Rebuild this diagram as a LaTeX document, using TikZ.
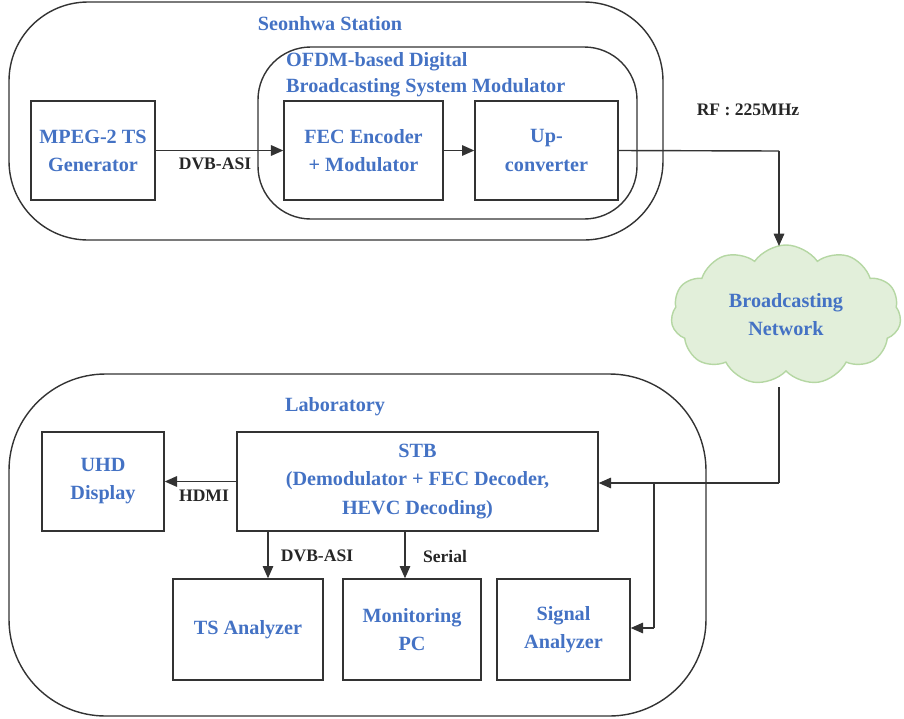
\documentclass[tikz,border=0pt]{standalone}
\usepackage{fontspec}
\setmainfont{Liberation Serif}
\usetikzlibrary{shapes.symbols,arrows.meta}
\definecolor{txtblue}{HTML}{4472C4}
\definecolor{cloudfill}{HTML}{E2EFDA}
\definecolor{cloudline}{HTML}{B5D7A3}
\tikzset{
  every node/.style={font=\bfseries},
  block/.style={draw=black!80, line width=0.8pt, text=txtblue, align=center, font=\bfseries\fontsize{11.5}{16}\selectfont, inner sep=0pt},
  group/.style={draw=black!80, line width=0.8pt},
  grouptitle/.style={text=txtblue, font=\bfseries\fontsize{11.5}{15}\selectfont},
  lbl/.style={text=black!85, font=\bfseries\fontsize{10}{12}\selectfont},
  conn/.style={draw=black!80, line width=0.8pt, -{Triangle[length=7pt,width=6pt]}},
  wire/.style={draw=black!80, line width=0.8pt}
}
\begin{document}
\begin{tikzpicture}[x=0.02cm,y=-0.02cm]
\useasboundingbox (0,0) rectangle (904,718);
% station and modulator enclosures
\draw[group, rounded corners=45] (9,2) rectangle (663,240);
\node[grouptitle] (sttitle) at (330,24) {Seonhwa Station};
\draw[group, rounded corners=30] (258,47) rectangle (637,219);
\node[grouptitle, align=left, anchor=west] (modtitle) at (280,75) {OFDM-based Digital\\Broadcasting System Modulator};
% station blocks
\node[block, minimum width=124*0.02cm, minimum height=99*0.02cm] (mpeg) at (93,150.5) {MPEG-2 TS\\Generator};
\node[block, minimum width=159*0.02cm, minimum height=99*0.02cm] (fec) at (363.5,150.5) {FEC Encoder\\+ Modulator};
\node[block, minimum width=143*0.02cm, minimum height=99*0.02cm] (up) at (546.5,150.5) {Up-\\converter};
\draw[conn] (mpeg.east) -- (fec.west);
\node[lbl] (dvb1) at (215,164) {DVB-ASI};
\draw[conn] (fec.east) -- (up.west);
% broadcasting network
\node[cloud, cloud puffs=11, cloud puff arc=110, aspect=1.6, draw=cloudline, fill=cloudfill, line width=0.8pt,
      minimum width=230*0.02cm, minimum height=140*0.02cm, inner sep=0pt,
      text=txtblue, align=center, font=\bfseries\fontsize{11.5}{16}\selectfont] (net) at (786,315) {Broadcasting\\Network};
\coordinate (rfcorner) at (779,151);
\draw[wire] (up.east) -- (rfcorner);
\coordinate (nettop) at (779,246);
\draw[conn] (rfcorner) -- (nettop);
\node[lbl] (rf) at (748,110) {RF : 225MHz};
% laboratory enclosure
\draw[group, rounded corners=55] (9,374) rectangle (706,716);
\node[grouptitle] (labtitle) at (335,407) {Laboratory};
\node[block, minimum width=122*0.02cm, minimum height=99*0.02cm] (uhd) at (103,481.5) {UHD\\Display};
\node[block, minimum width=361*0.02cm, minimum height=99*0.02cm] (stb) at (417.5,481.5) {STB\\(Demodulator + FEC Decoder,\\HEVC Decoding)};
\node[block, minimum width=150*0.02cm, minimum height=101*0.02cm] (tsa) at (248,629.5) {TS Analyzer};
\node[block, minimum width=138*0.02cm, minimum height=101*0.02cm] (mpc) at (412,629.5) {Monitoring\\PC};
\node[block, minimum width=133*0.02cm, minimum height=101*0.02cm] (sig) at (563.5,629.5) {Signal\\Analyzer};
% lab connections
\draw[conn] (stb.west) -- (uhd.east);
\node[lbl] (hdmi) at (204,496) {HDMI};
\draw[conn] (stb.south -| tsa.north) ++(20,0) coordinate (dvbtop) -- (dvbtop |- tsa.north);
\node[lbl] (dvb2) at (317,556) {DVB-ASI};
\draw[conn] (405,531) coordinate (sertop) -- (sertop |- mpc.north);
\node[lbl] (serial) at (445,556) {Serial};
% feed from the network
\coordinate (netbot) at (779,387);
\coordinate (feedcorner) at (779,483);
\coordinate (branch) at (654,483);
\coordinate (branchlow) at (654,628);
\draw[wire] (netbot) -- (feedcorner);
\draw[conn] (feedcorner) -- (stb.east |- feedcorner);
\draw[wire] (branch) -- (branchlow);
\draw[conn] (branchlow) -- (sig.east |- branchlow);
\end{tikzpicture}
\end{document}
